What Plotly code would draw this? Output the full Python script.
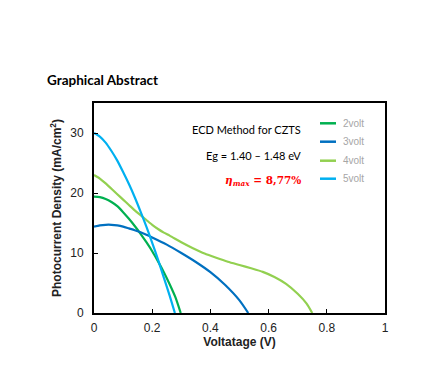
import plotly.graph_objects as go

# Voltage (V) and photocurrent density (mA/cm^2)
v_2volt = [0, 0.02, 0.04, 0.06, 0.08, 0.10, 0.12, 0.14, 0.16, 0.18, 0.20, 0.22, 0.24, 0.26, 0.28, 0.298]
j_2volt = [19.4, 19.3, 19.0, 18.5, 17.8, 16.8, 15.7, 14.5, 13.2, 11.8, 10.3, 8.6, 6.8, 4.8, 2.6, 0]

v_3volt = [0, 0.02, 0.04, 0.06, 0.08, 0.10, 0.12, 0.14, 0.16, 0.18, 0.20, 0.25, 0.30, 0.35, 0.40, 0.45, 0.50, 0.53]
j_3volt = [14.4, 14.6, 14.7, 14.7, 14.6, 14.4, 14.1, 13.8, 13.45, 13.05, 12.6, 11.4, 10.0, 8.5, 6.8, 4.7, 2.1, 0]

v_4volt = [0, 0.02, 0.04, 0.06, 0.08, 0.10, 0.12, 0.14, 0.16, 0.18, 0.20, 0.22, 0.24, 0.26, 0.30, 0.34, 0.38, 0.42, 0.46, 0.50, 0.54, 0.58, 0.62, 0.66, 0.70, 0.73, 0.75]
j_4volt = [23.0, 22.4, 21.6, 20.7, 19.8, 18.9, 18.0, 17.1, 16.3, 15.5, 14.7, 14.0, 13.4, 12.9, 11.8, 10.8, 9.9, 9.2, 8.55, 8.0, 7.45, 6.85, 6.0, 4.85, 3.2, 1.6, 0]

v_5volt = [0, 0.02, 0.04, 0.06, 0.08, 0.10, 0.12, 0.14, 0.16, 0.18, 0.20, 0.22, 0.24, 0.26, 0.278]
j_5volt = [30.0, 29.4, 28.4, 27.0, 25.4, 23.5, 21.5, 19.3, 16.9, 14.4, 11.7, 8.9, 5.9, 2.9, 0]

series_names = ["2volt", "3volt", "4volt", "5volt"]
series_colors = ["#00B050", "#0070C0", "#92D050", "#00B0F0"]
series_v = [v_2volt, v_3volt, v_4volt, v_5volt]
series_j = [j_2volt, j_3volt, j_4volt, j_5volt]

x_ticks = [0, 0.2, 0.4, 0.6, 0.8, 1]
x_ticklabels = ["0", "0.2", "0.4", "0.6", "0.8", "1"]
y_ticks = [0, 10, 20, 30]

# plot area in screen pixels (page has an 8px body margin)
PL, PR, PT, PB = 94, 385, 103, 313
PW, PH = PR - PL, PB - PT


def px(x):
    return (x - PL) / PW


def py(y):
    return (PB - y) / PH


fig = go.Figure()
for name, col, vv, jj in zip(series_names, series_colors, series_v, series_j):
    fig.add_trace(go.Scatter(x=vv, y=jj, mode="lines", name=name,
                             line=dict(color=col, width=2.2, shape="spline", smoothing=0.6),
                             showlegend=False))

# manual legend
leg_y = [123.3, 141.7, 160.7, 178.7]
for name, col, yy in zip(series_names, series_colors, leg_y):
    fig.add_shape(type="line", xref="paper", yref="paper", x0=px(320), x1=px(336), y0=py(yy), y1=py(yy),
                  line=dict(color=col, width=2.5))
    fig.add_annotation(xref="paper", yref="paper", x=px(341), y=py(yy), text=name, showarrow=False,
                       xanchor="left", yanchor="middle",
                       font=dict(family="Liberation Sans, Arial", size=10, color="#a6a6a6"))

fig.add_annotation(xref="paper", yref="paper", x=px(303), y=py(129),
                   text="ECD Method for CZTS", showarrow=False, xanchor="right", yanchor="middle",
                   font=dict(family="Lato, Open Sans", size=11, color="black"))
fig.add_annotation(xref="paper", yref="paper", x=px(303), y=py(155),
                   text="Eg = 1.40 – 1.48 eV", showarrow=False, xanchor="right", yanchor="middle",
                   font=dict(family="Lato, Open Sans", size=11, color="black"))
fig.add_annotation(xref="paper", yref="paper", x=px(303), y=py(181),
                   text="<b><i>η</i><sub><i>max</i></sub> = 8,77%</b>", showarrow=False,
                   xanchor="right", yanchor="middle",
                   font=dict(family="DejaVu Serif, Liberation Serif", size=10.5, color="#ff0000"))

fig.add_annotation(xref="paper", yref="paper", x=px(45), y=py(80),
                   text="<b>Graphical Abstract</b>", showarrow=False, xanchor="left", yanchor="middle",
                   font=dict(family="Lato, Open Sans", size=13.5, color="black"))

axis_common = dict(showline=True, linecolor="black", linewidth=1.8, mirror=True,
                   ticks="inside", ticklen=4, tickwidth=1, tickcolor="black",
                   showgrid=False, zeroline=False,
                   tickfont=dict(family="Liberation Sans, Arial", size=12, color="#222222"))

W, H = 422, 365
fig.update_layout(
    width=W, height=H,
    margin=dict(l=PL - 8, r=W - (PR - 8), t=PT - 8, b=H - (PB - 8)),
    paper_bgcolor="white", plot_bgcolor="white",
    xaxis=dict(range=[0, 1], tickvals=x_ticks, ticktext=x_ticklabels, ticklabelstandoff=3,
               title=dict(text="<b>Voltatage (V)</b>", standoff=3,
                          font=dict(family="Liberation Sans, Arial", size=12, color="#222222")),
               **axis_common),
    yaxis=dict(range=[0, 35], tickvals=y_ticks, ticklabelstandoff=6,
               title=dict(text="<b>Photocurrent Density (mA/cm<sup>2</sup>)</b>", standoff=6,
                          font=dict(family="Liberation Sans, Arial", size=12, color="#222222")),
               **axis_common),
)

fig.write_html("out.html")
